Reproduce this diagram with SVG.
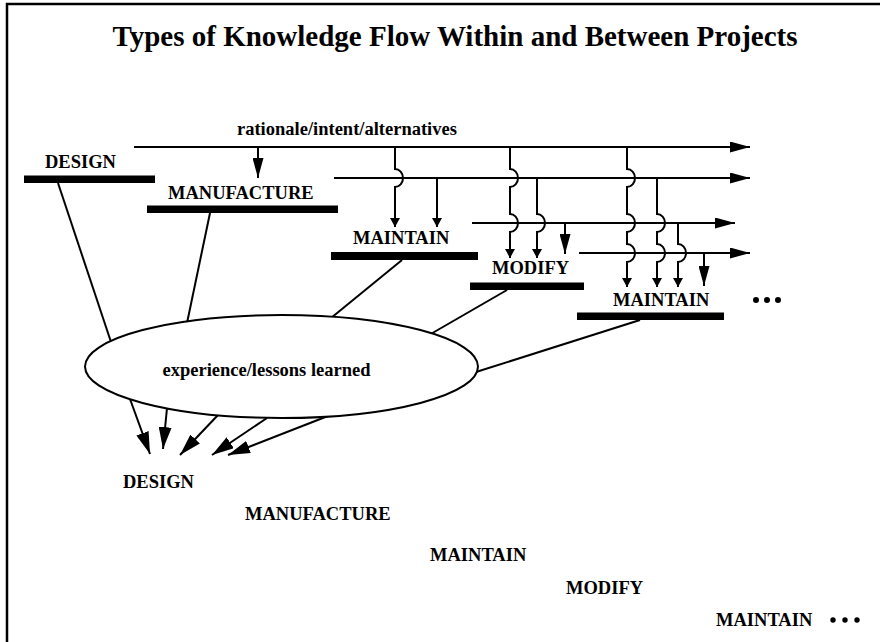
<svg xmlns="http://www.w3.org/2000/svg" width="880" height="642" viewBox="0 0 880 642">
  <style>
    text { font-family: "Liberation Serif", "Times New Roman", serif; font-weight: bold; fill: #000; }
    .title { font-size: 29px; }
    .lbl { font-size: 18.5px; }
    .bar { fill: #000; }
    .ln { fill: none; stroke: #000; stroke-width: 2; }
    .big { fill: none; stroke: #000; stroke-width: 2; marker-end: url(#headBig); }
    .small { fill: none; stroke: #000; stroke-width: 2; marker-end: url(#headSmall); }
    .wide { fill: none; stroke: #000; stroke-width: 2; marker-end: url(#headWide); }
    .dot { fill: #000; }
  </style>
  <defs>
    <marker id="headBig" viewBox="0 0 20 11" refX="20" refY="5.5" markerWidth="20" markerHeight="11" markerUnits="userSpaceOnUse" orient="auto">
      <path d="M0,0 L20,5.5 L0,11 z" fill="#000"/>
    </marker>
    <marker id="headSmall" viewBox="0 0 9 10" refX="9" refY="5" markerWidth="9" markerHeight="10" markerUnits="userSpaceOnUse" orient="auto">
      <path d="M0,0 L9,5 L0,10 z" fill="#000"/>
    </marker>
    <marker id="headWide" viewBox="0 0 22 13" refX="22" refY="6.5" markerWidth="22" markerHeight="13" markerUnits="userSpaceOnUse" orient="auto">
      <path d="M0,0 L22,6.5 L0,13 z" fill="#000"/>
    </marker>
  </defs>

  <rect width="880" height="642" fill="#fff"/>
  <!-- frame: left and top edges -->
  <path d="M7,642 V4 H880" fill="none" stroke="#000" stroke-width="2.5"/>

  <text class="title" x="455" y="46" text-anchor="middle">Types of Knowledge Flow Within and Between Projects</text>
  <text class="lbl" x="237" y="135">rationale/intent/alternatives</text>

  <g id="connectors">
    <!-- rationale streams carried forward -->
    <path class="big" d="M134,147 H750"/>
    <path class="big" d="M334,178 H750"/>
    <path class="big" d="M472,223 H735"/>
    <path class="big" d="M579,253 H750"/>

    <!-- drops into each phase, hopping over crossed streams -->
    <path class="big" d="M258,147 V178"/>
    <path class="small" d="M395,147 V169 a8 9 0 0 1 0 18 V227"/>
    <path class="small" d="M437,178 V227"/>
    <path class="small" d="M510,147 V169 a8 9 0 0 1 0 18 V214 a8 9 0 0 1 0 18 V258"/>
    <path class="small" d="M537,178 V214 a8 9 0 0 1 0 18 V258"/>
    <path class="big" d="M565,223 V254"/>
    <path class="small" d="M627,147 V169 a8 9 0 0 1 0 18 V214 a8 9 0 0 1 0 18 V244 a8 9 0 0 1 0 18 V287"/>
    <path class="small" d="M657,178 V214 a8 9 0 0 1 0 18 V244 a8 9 0 0 1 0 18 V287"/>
    <path class="small" d="M678,223 V244 a8 9 0 0 1 0 18 V287"/>
    <path class="big" d="M704,253 V286"/>

    <!-- phases feeding experience -->
    <path class="ln" d="M58,183 L111,342"/>
    <path class="ln" d="M210,213 L187,323"/>
    <path class="ln" d="M402,260 L331,318"/>
    <path class="ln" d="M507,290 L429,335"/>
    <path class="ln" d="M640,320 L476,372"/>

    <!-- experience feeding the next design -->
    <path class="wide" d="M130,399 L150,454"/>
    <path class="wide" d="M167,408 L163,449"/>
    <path class="wide" d="M218,415 L180,455"/>
    <path class="wide" d="M267,418 L212,455"/>
    <path class="wide" d="M328,416 L228,455"/>
  </g>

  <g id="design">
    <text class="lbl" x="45" y="168">DESIGN</text>
    <rect class="bar" x="24" y="175.5" width="131" height="7.5"/>
  </g>
  <g id="manufacture">
    <text class="lbl" x="168" y="199">MANUFACTURE</text>
    <rect class="bar" x="147" y="205.5" width="191" height="7.5"/>
  </g>
  <g id="maintain1">
    <text class="lbl" x="353" y="244">MAINTAIN</text>
    <rect class="bar" x="331" y="252" width="147" height="8"/>
  </g>
  <g id="modify">
    <text class="lbl" x="492" y="274">MODIFY</text>
    <rect class="bar" x="470" y="282.5" width="114" height="7.5"/>
  </g>
  <g id="maintain2">
    <text class="lbl" x="613" y="306">MAINTAIN</text>
    <rect class="bar" x="577" y="312.5" width="147" height="7.5"/>
    <circle class="dot" cx="756" cy="300" r="3"/>
    <circle class="dot" cx="767" cy="300" r="3"/>
    <circle class="dot" cx="778" cy="300" r="3"/>
  </g>

  <g id="experience">
    <ellipse cx="281.5" cy="366.5" rx="196.5" ry="51.5" fill="#fff" stroke="#000" stroke-width="2"/>
    <text class="lbl" x="266.5" y="376" text-anchor="middle">experience/lessons learned</text>
  </g>

  <g id="next-projects">
    <text class="lbl" x="123" y="488">DESIGN</text>
    <text class="lbl" x="245" y="520">MANUFACTURE</text>
    <text class="lbl" x="430" y="561">MAINTAIN</text>
    <text class="lbl" x="566" y="594">MODIFY</text>
    <text class="lbl" x="716" y="626">MAINTAIN</text>
    <circle class="dot" cx="833" cy="620" r="2.7"/>
    <circle class="dot" cx="845" cy="620" r="2.7"/>
    <circle class="dot" cx="857" cy="620" r="2.7"/>
  </g>
</svg>
